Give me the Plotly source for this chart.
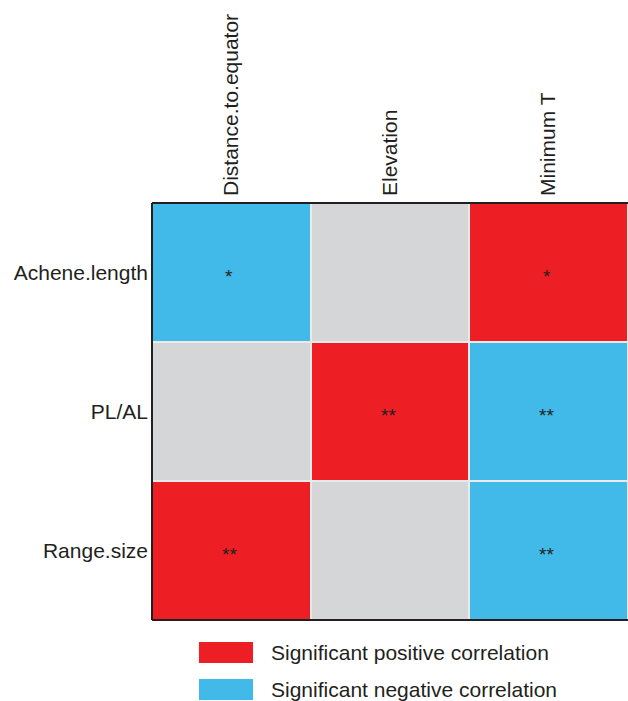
import plotly.graph_objects as go

predictors = ["Distance.to.equator", "Elevation", "Minimum T"]
traits = ["Achene.length", "PL/AL", "Range.size"]
# 1 = significant positive, -1 = significant negative, 0 = not significant
signs = [
    [-1, 0, 1],
    [0, 1, -1],
    [1, 0, -1],
]
stars = [
    ["*", "", "*"],
    ["", "**", "**"],
    ["**", "", "**"],
]
legend_labels = ["Significant positive correlation", "Significant negative correlation"]

RED = "#ED1F24"
BLUE = "#41B9E9"
GRAY = "#D5D6D8"
TXT = "#231F20"
FONT = "Liberation Sans"

fig = go.Figure()
fig.add_trace(go.Heatmap(
    z=signs, x=predictors, y=traits,
    zmin=-1, zmax=1,
    colorscale=[[0, BLUE], [0.33, BLUE], [0.34, GRAY], [0.66, GRAY], [0.67, RED], [1, RED]],
    showscale=False, xgap=2, ygap=2, hoverinfo="skip",
))

# significance stars
for i, t in enumerate(traits):
    for j, p in enumerate(predictors):
        if stars[i][j]:
            fig.add_annotation(x=p, y=t, text=stars[i][j], showarrow=False,
                               yshift=-4, xshift=-2, font=dict(size=19, color=TXT, family=FONT))

fig.update_xaxes(side="top", tickangle=-90, showgrid=False, zeroline=False, ticks="",
                 ticklabelstandoff=6,
                 tickfont=dict(size=21, color=TXT, family=FONT))
fig.update_yaxes(autorange="reversed", showgrid=False, zeroline=False, ticks="",
                 ticklabelstandoff=3,
                 tickfont=dict(size=21, color=TXT, family=FONT))

# border (left, top, bottom)
for x0, y0, x1, y1 in [(0, 0, 0, 1), (0, 1, 1, 1), (0, 0, 1, 0)]:
    fig.add_shape(type="line", xref="paper", yref="paper", x0=x0, y0=y0, x1=x1, y1=y1,
                  line=dict(color="#231F20", width=2))

# legend
for i, (lab, col) in enumerate(zip(legend_labels, [RED, BLUE])):
    ytop = -0.0528 - i * 0.0887
    fig.add_shape(type="rect", xref="paper", yref="paper", x0=0.0987, x1=0.2122,
                  y0=ytop - 0.0503, y1=ytop, fillcolor=col, line=dict(width=0))
    fig.add_annotation(xref="paper", yref="paper", x=0.245, y=ytop - 0.025, text=lab,
                       showarrow=False, xanchor="left", yanchor="middle",
                       font=dict(size=21, color=TXT, family=FONT))

fig.update_layout(
    width=628, height=701,
    margin=dict(l=152, r=0, t=203, b=81),
    plot_bgcolor="#EAEAEB", paper_bgcolor="white",
)
fig.write_html("out.html", config={"displayModeBar": False},
               post_script="document.body.style.margin='0';")
